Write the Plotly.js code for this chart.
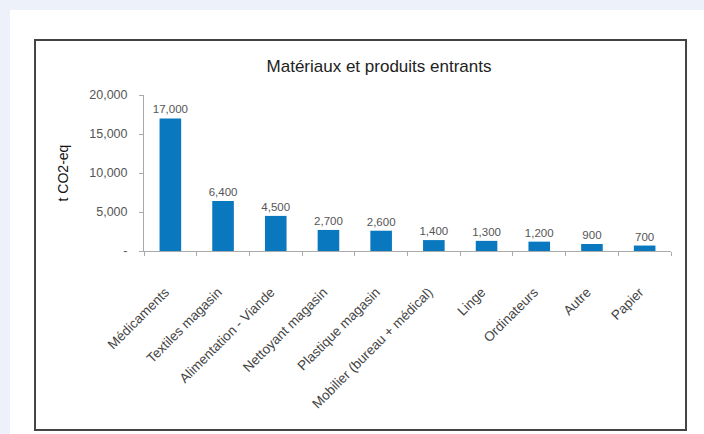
<!DOCTYPE html>
<html>
<head>
<meta charset="utf-8">
<script src="https://cdn.plot.ly/plotly-3.0.1.min.js"></script>
<style>html,body{margin:0;padding:0;background:#edf1f9;}#chart{width:704px;height:434px;}</style>
</head>
<body>
<div id="chart"></div>
<script>
const categories = ['Médicaments','Textiles magasin','Alimentation - Viande','Nettoyant magasin','Plastique magasin','Mobilier (bureau + médical)','Linge','Ordinateurs','Autre','Papier'];
const values = [17000, 6400, 4500, 2700, 2600, 1400, 1300, 1200, 900, 700];
const yTickVals = [0, 5000, 10000, 15000, 20000];
const yTickText = ['-', '5,000', '10,000', '15,000', '20,000'];
const chartTitle = 'Matériaux et produits entrants';
const yTitle = 't CO2-eq';

const FONT = 'Liberation Sans, Arial, Helvetica, sans-serif';

const trace = {
  type: 'bar',
  x: categories,
  y: values,
  marker: {color: '#0a78bf', line: {width: 0}},
  texttemplate: '%{y:,}',
  textposition: 'outside',
  constraintext: 'none',
  cliponaxis: false,
  textfont: {family: FONT, size: 11.5, color: '#555'},
  hoverinfo: 'x+y'
};

const layout = {
  width: 704, height: 434,
  margin: {l: 144, r: 33, t: 95, b: 183, autoexpand: false},
  paper_bgcolor: '#edf1f9',
  plot_bgcolor: 'rgba(0,0,0,0)',
  font: {family: FONT, color: '#444'},
  showlegend: false,
  bargap: 0.59,
  uniformtext: {mode: false},
  title: {
    text: chartTitle,
    font: {family: FONT, size: 17, color: '#222'},
    xref: 'container', x: 379/704, xanchor: 'center',
    yref: 'container', y: 1 - 66/434, yanchor: 'middle'
  },
  xaxis: {
    type: 'category',
    tickangle: -45,
    tickson: 'boundaries',
    ticks: 'outside', ticklen: 4, tickcolor: '#aaa',
    ticklabelstandoff: 27,
    ticklabelshift: -5,
    showline: true, linecolor: '#aaa', linewidth: 1,
    showgrid: false, zeroline: false,
    tickfont: {family: FONT, size: 13.5, color: '#444'},
    automargin: false
  },
  yaxis: {
    range: [0, 20000],
    tickvals: yTickVals, ticktext: yTickText,
    ticks: 'outside', ticklen: 4, tickcolor: '#aaa',
    ticklabelstandoff: 9,
    showline: true, linecolor: '#aaa', linewidth: 1,
    showgrid: false, zeroline: false,
    tickfont: {family: FONT, size: 12.5, color: '#555'},
    title: {text: yTitle, font: {family: FONT, size: 14, color: '#111'}, standoff: 17},
    automargin: false
  },
  shapes: [
    {type: 'rect', xref: 'paper', yref: 'paper', layer: 'below',
     x0: -0.2543, x1: 1.15, y0: -1.3, y1: 1.5449,
     fillcolor: '#ffffff', line: {width: 0}},
    {type: 'rect', xref: 'paper', yref: 'paper', layer: 'below',
     x0: -0.2068, x1: 1.0285, y0: -1.1474, y1: 1.3526,
     fillcolor: 'rgba(0,0,0,0)', line: {color: '#444', width: 2}}
  ]
};

Plotly.newPlot('chart', [trace], layout, {displayModeBar: false, staticPlot: true});
</script>
</body>
</html>
